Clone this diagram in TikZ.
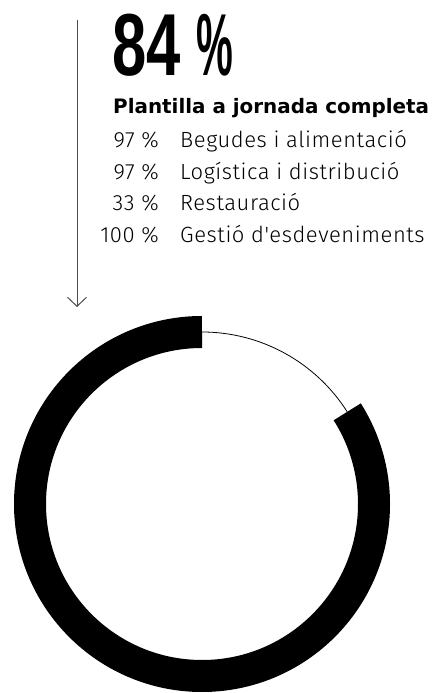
\documentclass[tikz,border=0pt]{standalone}
\usepackage{fontspec}
\usetikzlibrary{arrows.meta}
\setmainfont{TeX Gyre Heros}
\newfontfamily\lightfont{Fira Sans Light}[LetterSpace=2.5]
\newfontfamily\bigfont{Liberation Sans}[BoldFont=* Bold]
\newfontfamily\headfont{DejaVu Sans}[BoldFont=* Bold]
\begin{document}
\begin{tikzpicture}[x=1pt,y=1pt,
  pct/.style={anchor=base east,inner sep=0pt,font=\lightfont\fontsize{22}{22}\selectfont},
  lbl/.style={anchor=base west,inner sep=0pt,font=\lightfont\fontsize{22}{22}\selectfont},
  ring/.style={line width=32pt,black},
  thin/.style={line width=0.8pt,black},
  pointer/.style={draw=black!70,line width=1pt,-{Straight Barb[length=9pt,width=19pt]}}]
\useasboundingbox (0,0) rectangle (437,693);
\fill[white] (0,0) rectangle (437,693);
\node[anchor=base west,inner sep=0pt] (big) at (112,617) {\scalebox{0.70}[1]{\bigfont\bfseries\fontsize{88}{88}\selectfont 84}};
\node[anchor=base west,inner sep=0pt] (bigpct) at (196,617) {\scalebox{0.47}[1]{\bigfont\bfseries\fontsize{88}{88}\selectfont\%}};
\node[anchor=base west,inner sep=0pt,font=\headfont\bfseries\fontsize{19.9}{22}\selectfont] (head) at (113,579) {Plantilla a jornada completa};
\node[pct] (p1) at (159,545) {97 \%};
\node[lbl] (l1) at (180,545) {Begudes i alimentació};
\node[pct] (p2) at (159,513) {97 \%};
\node[lbl] (l2) at (180,513) {Logística i distribució};
\node[pct] (p3) at (159,482) {33 \%};
\node[lbl] (l3) at (180,482) {Restauració};
\node[pct] (p4) at (159,450) {100 \%};
\node[lbl] (l4) at (180,450) {Gestió d'esdeveniments};
\coordinate (c) at (202,189);
\coordinate (atop) at (77,673);
\coordinate (abot) at (77,386);
\draw[pointer] (atop) -- (abot);
\draw[thin] ([shift={(32.4:172)}]c) arc[start angle=32.4,end angle=90,radius=172];
\draw[ring] ([shift={(90:172)}]c) arc[start angle=90,end angle=392.4,radius=172];
\end{tikzpicture}
\end{document}
